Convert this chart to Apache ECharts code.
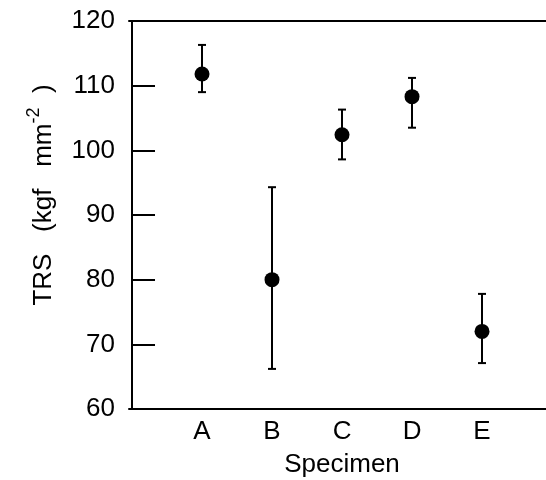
<!DOCTYPE html>
<html><head><meta charset="utf-8">
<script src="https://cdn.jsdelivr.net/npm/echarts@6/dist/echarts.min.js"></script>
<style>html,body{margin:0;padding:0;background:#fff}#c{width:546px;height:480px}</style>
</head><body><div id="c"></div>
<script>
var categories = ['A', 'B', 'C', 'D', 'E'];
var positions = [1, 2, 3, 4, 5];
var means = [111.8, 80.0, 102.4, 108.3, 72.0];
var upper = [116.3, 94.3, 106.3, 111.2, 77.8];
var lower = [109.0, 66.2, 98.6, 103.5, 67.1];
var yTicks = [60, 70, 80, 90, 100, 110, 120];

var FONT = 'Liberation Sans';
var chart = echarts.init(document.getElementById('c'), null, {renderer: 'canvas'});
var pts = positions.map(function (p, i) { return [p, means[i]]; });
var errs = positions.map(function (p, i) { return [p, lower[i], upper[i]]; });

chart.setOption({
  animation: false,
  backgroundColor: '#fff',
  grid: {left: 129, top: 21, right: 0, bottom: 71, containLabel: false, outerBoundsMode: 'none'},
  xAxis: [{
    type: 'value', min: -0.043, max: 5.914,
    axisLine: {show: true, lineStyle: {color: '#000', width: 2}},
    axisTick: {show: false},
    splitLine: {show: false},
    axisLabel: {customValues: positions, formatter: function (v) { return categories[Math.round(v) - 1] || ''; },
      color: '#000', fontSize: 26, fontFamily: FONT, margin: 10},
    name: 'Specimen', nameLocation: 'middle', nameGap: 43,
    nameTextStyle: {color: '#000', fontSize: 26, fontFamily: FONT, padding: [0, 0, 0, 9]}
  }, {
    type: 'value', position: 'top', min: -0.043, max: 5.914,
    axisLine: {show: true, onZero: false, lineStyle: {color: '#000', width: 2}},
    axisTick: {show: false}, axisLabel: {show: false}, splitLine: {show: false}
  }],
  yAxis: {
    type: 'value', min: 60, max: 120, interval: 10,
    axisLine: {show: true, lineStyle: {color: '#000', width: 2}},
    axisTick: {show: true, inside: true, length: 23, lineStyle: {color: '#000', width: 2}},
    splitLine: {show: false},
    axisLabel: {customValues: yTicks, color: '#000', fontSize: 26, fontFamily: FONT, margin: 14},
    name: '{n|TRS   (kgf   mm}{s|-2}{n|  )}', nameLocation: 'middle', nameRotate: 90, nameGap: 72,
    nameTextStyle: {
      padding: [0, 0, 0, 40],
      rich: {
        n: {color: '#000', fontSize: 26, fontFamily: FONT, lineHeight: 32, verticalAlign: 'bottom'},
        s: {color: '#000', fontSize: 18, fontFamily: FONT, lineHeight: 32, verticalAlign: 'top', padding: [0, 0, 14, 0]}
      }
    }
  },
  series: [{
    type: 'custom',
    data: errs,
    renderItem: function (params, api) {
      var x = api.value(0);
      var lo = api.coord([x, api.value(1)]);
      var hi = api.coord([x, api.value(2)]);
      var cap = 4;
      var st = {stroke: '#000', lineWidth: 2};
      return {type: 'group', children: [
        {type: 'line', shape: {x1: lo[0], y1: lo[1], x2: hi[0], y2: hi[1]}, style: st},
        {type: 'line', shape: {x1: lo[0] - cap, y1: lo[1], x2: lo[0] + cap, y2: lo[1]}, style: st},
        {type: 'line', shape: {x1: hi[0] - cap, y1: hi[1], x2: hi[0] + cap, y2: hi[1]}, style: st}
      ]};
    },
    z: 2
  }, {
    type: 'scatter',
    data: pts,
    symbol: 'circle', symbolSize: 15,
    itemStyle: {color: '#000', opacity: 1},
    z: 3
  }]
});
</script></body></html>
